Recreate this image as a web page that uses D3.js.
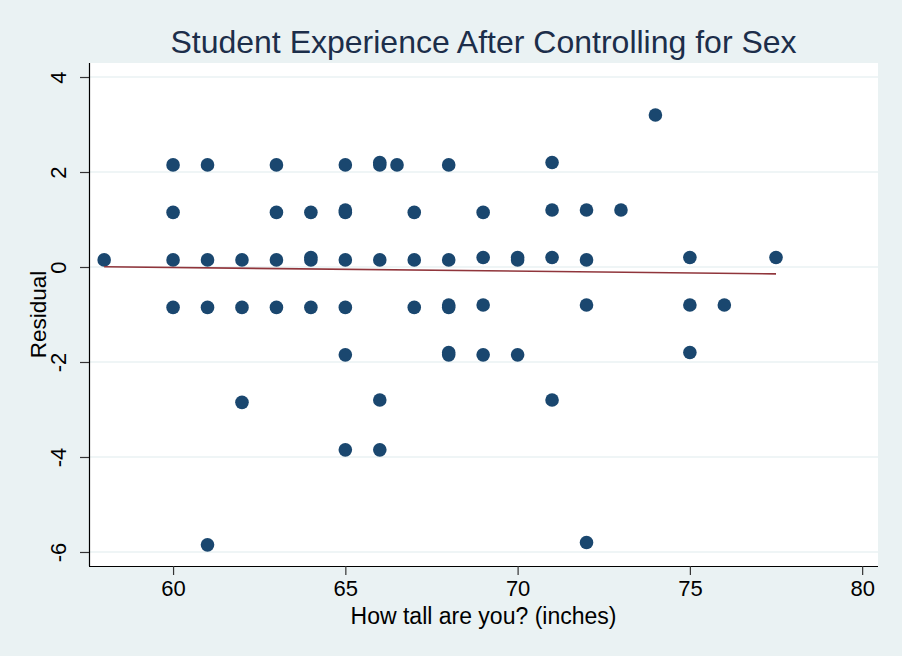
<!DOCTYPE html>
<html>
<head>
<meta charset="utf-8">
<script src="https://cdn.jsdelivr.net/npm/d3@7"></script>
<style>
  body { margin: 0; background: #eaf2f3; }
  svg { display: block; font-family: 'Liberation Sans', Arial, sans-serif; }
</style>
</head>
<body>
<div id="chart"></div>
<script>
// height (inches) and residual for each student
var heights = [
  58,
  60, 60, 60, 60,
  61, 61, 61, 61,
  62, 62, 62,
  63, 63, 63, 63,
  64, 64, 64, 64,
  65, 65, 65, 65, 65, 65, 65,
  66, 66, 66, 66, 66,
  66.5,
  67, 67, 67,
  68, 68, 68, 68, 68, 68,
  69, 69, 69, 69,
  70, 70, 70,
  71, 71, 71, 71,
  72, 72, 72, 72,
  73, 74,
  75, 75, 75,
  76, 77.5
];
var residuals = [
  0.15,
  2.15, 1.15, 0.15, -0.85,
  2.15, 0.15, -0.85, -5.85,
  0.15, -0.85, -2.85,
  2.15, 1.15, 0.15, -0.85,
  1.15, 0.15, 0.2, -0.85,
  2.15, 1.15, 1.2, 0.15, -0.85, -1.85, -3.85,
  2.15, 2.2, 0.15, -2.8, -3.85,
  2.15,
  1.15, 0.15, -0.85,
  2.15, 0.15, -0.8, -0.85, -1.8, -1.85,
  1.15, 0.2, -0.8, -1.85,
  0.15, 0.2, -1.85,
  2.2, 1.2, 0.2, -2.8,
  1.2, 0.15, -0.8, -5.8,
  1.2, 3.2,
  0.2, -0.8, -1.8,
  -0.8, 0.2
];
// linear fit endpoints
var fitX = [58, 77.5];
var fitY = [0.005, -0.145];

var xTicks = [60, 65, 70, 75, 80];
var yTicks = [-6, -4, -2, 0, 2, 4];

var W = 902, H = 656;
var margin = { left: 89, right: 24, top: 63, bottom: 90 };
var width = W - margin.left - margin.right,
    height = H - margin.top - margin.bottom;

var svg = d3.select('#chart')
    .append('svg')
    .attr('width', W)
    .attr('height', H);

svg.append('rect')
    .attr('width', W).attr('height', H)
    .attr('fill', '#eaf2f3');

var g = svg.append('g')
    .attr('transform', 'translate(' + margin.left + ',' + margin.top + ')');

g.append('rect')
    .attr('width', width).attr('height', height)
    .attr('fill', '#ffffff');

var x = d3.scaleLinear()
    .domain([57.56, 80.46])
    .range([0, width]);
var y = d3.scaleLinear()
    .domain([-6.295, 4.295])
    .range([height, 0]);

// gridlines
g.selectAll('.grid')
    .data(yTicks)
    .enter()
    .append('line')
    .attr('x1', 0).attr('x2', width)
    .attr('y1', function (d) { return y(d); })
    .attr('y2', function (d) { return y(d); })
    .attr('stroke', '#eaf2f3')
    .attr('stroke-width', 1.5);

// y axis
var yAxis = g.append('g')
    .call(d3.axisLeft(y).tickValues(yTicks).tickSize(9).tickFormat(String));
yAxis.select('.domain').attr('stroke', '#000').attr('stroke-width', 1.2)
    .attr('d', 'M0.5,0V' + height);
yAxis.selectAll('.tick line').attr('stroke', '#333').attr('stroke-width', 1.2);
yAxis.selectAll('.tick text')
    .attr('font-size', '22px')
    .attr('fill', '#000')
    .attr('text-anchor', 'middle')
    .attr('transform', 'rotate(-90)')
    .attr('x', 0)
    .attr('y', -23)
    .attr('dy', 0);

// x axis
var xAxis = g.append('g')
    .attr('transform', 'translate(0,' + height + ')')
    .call(d3.axisBottom(x).tickValues(xTicks).tickSize(9).tickPadding(5).tickFormat(String));
xAxis.select('.domain').attr('stroke', '#000').attr('stroke-width', 1.2)
    .attr('d', 'M0,0.5H' + width);
xAxis.selectAll('.tick line').attr('stroke', '#333').attr('stroke-width', 1.2);
xAxis.selectAll('.tick text')
    .attr('font-size', '22px')
    .attr('fill', '#000');

// points
g.selectAll('circle')
    .data(heights)
    .enter()
    .append('circle')
    .attr('cx', function (d) { return x(d); })
    .attr('cy', function (d, i) { return y(residuals[i]); })
    .attr('r', 6.8)
    .attr('fill', '#1a476f');

// fit line
g.append('line')
    .attr('x1', x(fitX[0])).attr('y1', y(fitY[0]))
    .attr('x2', x(fitX[1])).attr('y2', y(fitY[1]))
    .attr('stroke', '#90353b')
    .attr('stroke-width', 1.6);

// titles
svg.append('text')
    .attr('x', margin.left + width / 2)
    .attr('y', 53)
    .attr('text-anchor', 'middle')
    .attr('font-size', '32px')
    .attr('fill', '#1c2e4a')
    .text('Student Experience After Controlling for Sex');

svg.append('text')
    .attr('x', margin.left + width / 2)
    .attr('y', 624)
    .attr('text-anchor', 'middle')
    .attr('font-size', '23px')
    .attr('fill', '#000')
    .text('How tall are you? (inches)');

svg.append('text')
    .attr('transform', 'translate(46,' + (margin.top + height / 2) + ') rotate(-90)')
    .attr('text-anchor', 'middle')
    .attr('font-size', '22.5px')
    .attr('fill', '#000')
    .text('Residual');
</script>
</body>
</html>
